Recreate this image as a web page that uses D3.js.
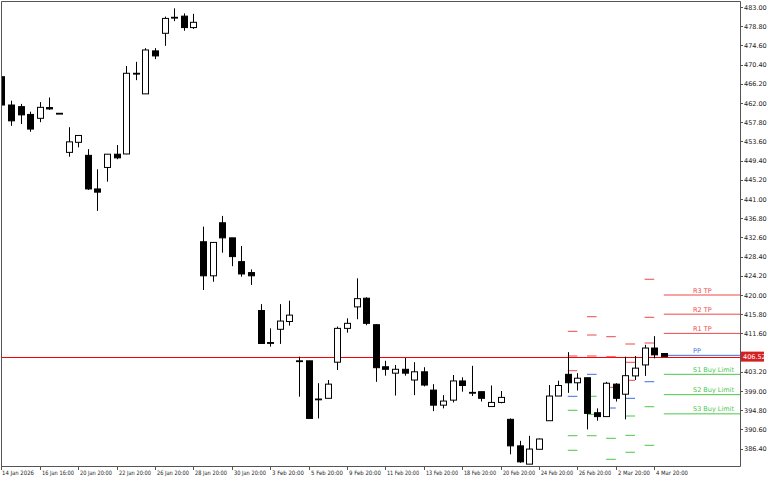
<!DOCTYPE html>
<html>
<head>
<meta charset="utf-8">
<script src="https://cdn.jsdelivr.net/npm/d3@7"></script>
<style>
  body { margin: 0; background: #fff; }
  svg { display: block; font-family: "DejaVu Sans", sans-serif; }
</style>
</head>
<body>
<script>
// OHLC per bar
const opens  = [467.75,461.56,461.2,459.5,458.65,461.0,459.75,451.2,453.4,450.55,443.2,447.9,450.8,450.85,468.5,464.0,473.4,477.25,480.75,481.0,478.5,
  431.65,424.2,435.8,432.5,427.3,424.9,416.6,409.6,412.5,414.2,405.6,405.6,397.25,397.4,405.3,412.7,417.4,419.3,413.5,404.3,402.9,403.75,401.4,403.2,
  399.2,395.9,397.0,401.2,398.7,398.85,395.6,396.5,392.8,387.0,383.0,386.25,392.5,397.9,402.65,400.8,401.9,394.25,393.4,400.5,398.3,402.3,404.7,408.4,407.2];
const highs  = [467.9,462.5,461.8,460.1,462.2,463.2,459.75,456.7,454.9,451.9,447.5,450.8,452.8,470.1,471.0,474.0,474.0,480.9,482.7,481.6,481.5,
  434.95,431.5,437.3,432.5,430.7,425.6,418.0,412.7,418.0,418.75,406.5,405.6,400.7,401.4,413.1,414.9,423.65,419.5,413.6,405.6,404.7,406.2,405.3,404.2,
  400.5,398.1,402.5,402.0,404.5,398.85,400.2,399.0,393.0,388.1,389.2,388.6,400.3,401.25,407.5,402.9,401.9,395.2,401.0,400.7,406.5,406.65,409.1,411.0,407.3];
const lows   = [461.4,457.0,457.4,455.7,457.8,460.5,459.75,450.25,452.3,443.0,438.4,444.8,449.7,450.8,467.0,464.0,471.6,474.5,479.9,477.8,478.2,
  421.1,422.9,429.25,426.3,424.0,422.2,409.4,408.7,409.3,413.3,397.75,393.0,393.0,397.4,403.6,411.75,414.7,413.4,401.0,402.35,398.0,402.35,398.1,400.0,
  394.6,395.2,396.5,398.85,397.9,396.7,395.6,396.3,385.15,383.3,383.0,386.25,392.5,397.9,398.6,399.1,390.6,392.5,393.4,396.7,392.8,401.4,402.3,406.15,406.52];
const closes = [461.56,458.1,459.4,456.3,461.05,460.7,459.75,453.5,454.9,443.2,442.5,450.8,450.0,468.5,468.5,473.6,472.3,480.5,480.75,478.5,479.65,
  424.2,431.5,432.5,428.4,424.6,424.2,409.4,409.6,414.3,415.6,405.6,393.0,397.25,400.5,412.7,413.8,419.2,413.8,404.1,403.75,403.75,402.9,403.2,400.3,
  395.9,396.8,401.2,400.2,398.7,397.4,396.5,397.6,387.0,383.5,386.3,388.5,397.9,400.2,400.8,401.8,394.1,393.4,400.7,397.4,402.35,404.0,408.4,406.9,406.52];

const yTicks = [386.4,390.6,394.8,399.0,403.2,407.4,411.6,415.8,420.0,424.2,428.4,432.6,436.8,441.0,445.2,449.4,453.6,457.8,462.0,466.2,470.4,474.6,478.8,483.0];
const xTickBars = [0,4,8,12,16,20,24,28,32,36,40,44,48,52,56,60,64,68];
const xTickLabels = ["14 Jan 2026","16 Jan 16:00","20 Jan 20:00","22 Jan 20:00","26 Jan 20:00","28 Jan 20:00","30 Jan 20:00","3 Feb 20:00","5 Feb 20:00",
  "9 Feb 20:00","11 Feb 20:00","13 Feb 20:00","18 Feb 20:00","20 Feb 20:00","24 Feb 20:00","26 Feb 20:00","2 Mar 20:00","4 Mar 20:00"];

// pivot sets: starting bar, R3,R2,R1,PP,S1,S2,S3
const pivotStart = [59,61,63,65,67,69];
const pivotR3 = [412.06,415.25,410.88,409.28,423.44,420.0];
const pivotR2 = [406.66,411.25,406.5,405.28,415.12,415.8];
const pivotR1 = [403.44,406.66,399.81,401.34,409.5,411.6];
const pivotPP = [397.84,402.65,395.28,397.4,401.03,406.8];
const pivotS1 = [394.78,397.84,388.65,393.53,395.56,402.65];
const pivotS2 = [389.22,393.9,384.06,389.3,387.12,398.2];
const pivotS3 = [386.03,389.22,379.5,385.6,378.8,394.0];
const pivotNames = ["R3 TP","R2 TP","R1 TP","PP","S1 Buy Limit","S2 Buy Limit","S3 Buy Limit"];
const lastPrice = 406.52;

const W = 768, H = 480, axisX = 740, axisY = 466;
const red = "#f04848", blue = "#3c6fe0", green = "#48c848";

const svg = d3.select('body').append('svg').attr('width', W).attr('height', H);

const x = d3.scaleLinear().domain([0, 69]).range([1.4, 663.8]);
const y = d3.scaleLinear().domain([386.4, 483.0]).range([448.6, 7]);

svg.append('defs').append('clipPath').attr('id', 'plot')
  .append('rect').attr('x', 1).attr('y', 1).attr('width', axisX - 1).attr('height', axisY - 1);

const plot = svg.append('g').attr('clip-path', 'url(#plot)');

// current price line
const lastY = Math.round(y(lastPrice)) + 0.5;
plot.append('line')
  .attr('x1', 2).attr('x2', axisX)
  .attr('y1', lastY).attr('y2', lastY)
  .attr('stroke', '#ff0000').attr('stroke-width', 1);

// pivot levels
const levelSets = [pivotR3, pivotR2, pivotR1, pivotPP, pivotS1, pivotS2, pivotS3];
const levelColor = [red, red, red, blue, green, green, green];
pivotStart.forEach((b, j) => {
  const x1 = x(b);
  const x2 = j === pivotStart.length - 1 ? axisX : x(b + 1);
  levelSets.forEach((arr, k) => {
    plot.append('line')
      .attr('x1', x1).attr('x2', x2)
      .attr('y1', y(arr[j])).attr('y2', y(arr[j]))
      .attr('stroke', levelColor[k]).attr('stroke-width', 1);
  });
});
levelSets.forEach((arr, k) => {
  plot.append('text')
    .attr('x', 693).attr('y', y(arr[arr.length - 1]) - 2.5)
    .attr('fill', levelColor[k]).attr('font-size', 6.5)
    .text(pivotNames[k]);
});

// candles
const bars = d3.range(opens.length);
const candles = plot.selectAll('g.candle').data(bars).enter().append('g').attr('class', 'candle');
candles.append('line')
  .attr('x1', (i) => Math.round(x(i)) + 0.5).attr('x2', (i) => Math.round(x(i)) + 0.5)
  .attr('y1', (i) => y(highs[i])).attr('y2', (i) => y(lows[i]))
  .attr('stroke', '#000').attr('stroke-width', 1);
candles.append('rect')
  .attr('x', (i) => Math.round(x(i)) - 2.5)
  .attr('width', 6)
  .attr('y', (i) => y(Math.max(opens[i], closes[i])))
  .attr('height', (i) => Math.max(0.8, Math.abs(y(opens[i]) - y(closes[i]))))
  .attr('fill', (i) => closes[i] >= opens[i] && Math.abs(closes[i] - opens[i]) > 0.3 ? '#fff' : '#000')
  .attr('stroke', '#000').attr('stroke-width', 1);

// frame
svg.append('path')
  .attr('d', `M1.5,${axisY + 0.5} V1.5 H${axisX + 0.5} V${axisY + 0.5} H1.5`)
  .attr('fill', 'none').attr('stroke', '#555').attr('stroke-width', 1);

// price axis
const yAxis = svg.append('g');
yAxis.selectAll('line').data(yTicks).enter().append('line')
  .attr('x1', axisX).attr('x2', axisX + 3)
  .attr('y1', (d) => Math.round(y(d)) + 0.5).attr('y2', (d) => Math.round(y(d)) + 0.5)
  .attr('stroke', '#555');
yAxis.selectAll('text').data(yTicks.filter((d) => Math.abs(y(d) - y(lastPrice)) > 7)).enter().append('text')
  .attr('x', axisX + 4).attr('y', (d) => y(d) + 2.5)
  .attr('font-size', 6.5).attr('fill', '#222')
  .text((d) => d.toFixed(2));

// current price label
svg.append('rect')
  .attr('x', axisX + 1).attr('y', y(lastPrice) - 5)
  .attr('width', 23).attr('height', 10).attr('fill', '#d42020');
svg.append('text')
  .attr('x', axisX + 3).attr('y', y(lastPrice) + 2.5)
  .attr('font-size', 6.5).attr('fill', '#fff')
  .text(lastPrice.toFixed(2));

// time axis
const xAxis = svg.append('g');
xAxis.selectAll('line').data(xTickBars).enter().append('line')
  .attr('x1', (b) => Math.round(x(b)) + 0.5).attr('x2', (b) => Math.round(x(b)) + 0.5)
  .attr('y1', axisY).attr('y2', axisY + 4)
  .attr('stroke', '#555');
xAxis.selectAll('text').data(xTickBars).enter().append('text')
  .attr('x', (b, i) => i === 0 ? 2 : Math.round(x(b)) + 2).attr('y', axisY + 9)
  .attr('font-size', 6).attr('fill', '#222')
  .attr('textLength', (b, i) => Math.min(32, xTickLabels[i].length * 2.9))
  .attr('lengthAdjust', 'spacingAndGlyphs')
  .text((b, i) => xTickLabels[i]);
</script>
</body>
</html>
